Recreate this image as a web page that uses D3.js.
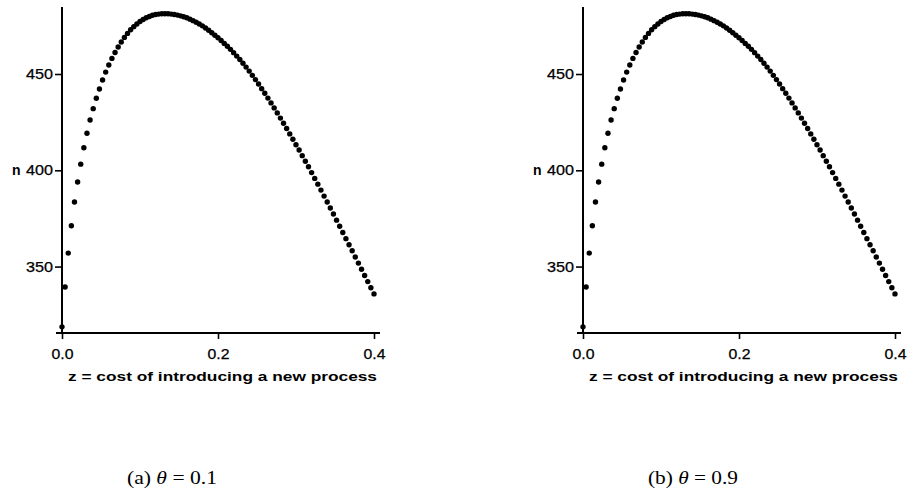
<!DOCTYPE html>
<html>
<head>
<meta charset="utf-8">
<script src="https://cdn.jsdelivr.net/npm/d3@7/dist/d3.min.js"></script>
<style>
  html, body { margin: 0; padding: 0; background: #fff; }
  svg { display: block; }
  .tick text { font-family: "Liberation Sans", Arial, sans-serif; font-size: 14px; fill: #000; stroke: #000; stroke-width: 0.25px; }
  .title { font-family: "Liberation Sans", Arial, sans-serif; font-weight: bold; font-size: 12px; fill: #000; }
  .caption { font-family: "Liberation Serif", "DejaVu Serif", serif; font-size: 19px; fill: #000; }
</style>
</head>
<body>
<svg id="chart" width="910" height="492"></svg>
<script>
// z = cost of introducing a new process, sampled every 0.004 from 0 to 0.4
const zStep = 0.004;
const zCount = 101;

// n for theta = 0.1
const nTheta01 = [
  318.7, 339.4, 357.0, 371.2, 383.5, 393.9, 403.2, 411.7, 419.2, 426.1,
  432.0, 437.4, 442.2, 446.9, 451.0, 454.7, 458.1, 461.2, 464.0, 466.6,
  469.0, 471.1, 473.0, 474.6, 476.0, 477.3, 478.3, 479.2, 479.9, 480.5,
  480.9, 481.1, 481.3, 481.3, 481.3, 481.1, 480.9, 480.6, 480.2, 479.7,
  479.2, 478.5, 477.7, 476.9, 476.0, 475.0, 473.9, 472.7, 471.4, 470.1,
  468.8, 467.4, 465.9, 464.4, 462.8, 461.1, 459.3, 457.5, 455.6, 453.6,
  451.5, 449.3, 447.1, 444.8, 442.4, 440.0, 437.5, 435.0, 432.4, 429.8,
  427.1, 424.4, 421.7, 418.9, 416.1, 413.3, 410.5, 407.6, 404.7, 401.8,
  398.8, 395.8, 392.8, 389.7, 386.6, 383.5, 380.4, 377.3, 374.1, 370.9,
  367.7, 364.5, 361.3, 358.2, 355.0, 351.8, 348.6, 345.4, 342.2, 339.0,
  335.8
];

// n for theta = 0.9
const nTheta09 = [
  318.7, 339.4, 357.0, 371.2, 383.5, 393.9, 403.2, 411.7, 419.2, 426.1,
  432.0, 437.4, 442.2, 446.9, 451.0, 454.7, 458.1, 461.2, 464.0, 466.6,
  469.0, 471.1, 473.0, 474.6, 476.0, 477.3, 478.3, 479.2, 479.9, 480.5,
  480.9, 481.1, 481.3, 481.3, 481.3, 481.1, 480.9, 480.6, 480.2, 479.7,
  479.2, 478.5, 477.7, 476.9, 476.0, 475.0, 473.9, 472.7, 471.4, 470.1,
  468.8, 467.4, 465.9, 464.4, 462.8, 461.1, 459.3, 457.5, 455.6, 453.6,
  451.5, 449.3, 447.1, 444.8, 442.4, 440.0, 437.5, 435.0, 432.4, 429.8,
  427.1, 424.4, 421.7, 418.9, 416.1, 413.3, 410.5, 407.6, 404.7, 401.8,
  398.8, 395.8, 392.8, 389.7, 386.6, 383.5, 380.4, 377.3, 374.1, 370.9,
  367.7, 364.5, 361.3, 358.2, 355.0, 351.8, 348.6, 345.4, 342.2, 339.0,
  335.8
];

const xTicks = [0, 0.2, 0.4];
const yTicks = [350, 400, 450];
const xTitle = "z = cost of introducing a new process";
const yTitle = "n";
const captionLetters = ["(a)", "(b)"];
const thetaValues = ["0.1", "0.9"];

const zValues = d3.range(zCount).map(i => +(i * zStep).toFixed(3));

const svg = d3.select("#chart");

function panel(offsetX, series, letter, theta) {
  const x = d3.scaleLinear().domain([0, 0.4]).range([offsetX + 62, offsetX + 374]);
  const y = d3.scaleLinear().domain([315.5, 484.8]).range([333, 7]);
  const g = svg.append("g");

  // x axis
  const xa = g.append("g")
    .attr("transform", "translate(0,333)")
    .call(d3.axisBottom(x).tickValues(xTicks).tickSize(6).tickPadding(10)
      .tickFormat(d3.format(".1f")));
  xa.select(".domain").remove();
  xa.selectAll(".tick line").attr("stroke", "#000").attr("stroke-width", 1.6);
  xa.selectAll(".tick text").attr("textLength", 22).attr("lengthAdjust", "spacingAndGlyphs");
  g.append("line")
    .attr("x1", x.range()[0] - 6).attr("x2", x.range()[1] + 6)
    .attr("y1", 333).attr("y2", 333)
    .attr("stroke", "#000").attr("stroke-width", 2);

  // y axis
  const ya = g.append("g")
    .attr("transform", `translate(${x.range()[0]},0)`)
    .call(d3.axisLeft(y).tickValues(yTicks).tickSize(7).tickPadding(2));
  ya.select(".domain").remove();
  ya.selectAll(".tick line").attr("stroke", "#000").attr("stroke-width", 1.6);
  ya.selectAll(".tick text").attr("textLength", 27).attr("lengthAdjust", "spacingAndGlyphs");
  g.append("line")
    .attr("x1", x.range()[0]).attr("x2", x.range()[0])
    .attr("y1", y.range()[1]).attr("y2", 333)
    .attr("stroke", "#000").attr("stroke-width", 2);

  // axis titles
  g.append("text").attr("class", "title")
    .attr("x", x.range()[0] + 6).attr("y", 381)
    .attr("textLength", 309).attr("lengthAdjust", "spacingAndGlyphs")
    .text(xTitle);
  g.append("text").attr("class", "title")
    .attr("x", offsetX + 12).attr("y", y(400) + 5)
    .style("font-size", "14px")
    .text(yTitle);

  // points
  g.append("g").selectAll("circle")
    .data(zValues.map((z, i) => ({ z, n: series[i] })))
    .join("circle")
    .attr("cx", d => x(d.z))
    .attr("cy", d => y(d.n))
    .attr("r", 2.7)
    .attr("fill", "#000");

  // caption
  const cap = g.append("text").attr("class", "caption")
    .attr("x", offsetX + 127).attr("y", 484)
    .attr("textLength", 90).attr("lengthAdjust", "spacingAndGlyphs");
  cap.append("tspan").text(letter + " ");
  cap.append("tspan").style("font-style", "italic").text("θ");
  cap.append("tspan").text(" = " + theta);
}

panel(0, nTheta01, captionLetters[0], thetaValues[0]);
panel(521, nTheta09, captionLetters[1], thetaValues[1]);
</script>
</body>
</html>
